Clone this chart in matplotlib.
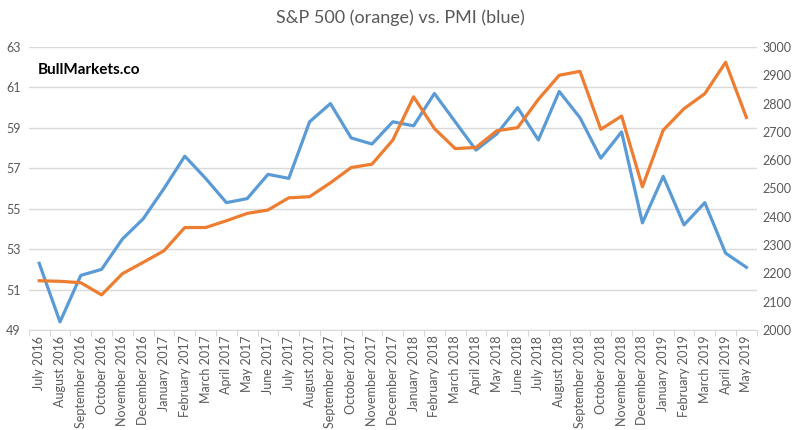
import matplotlib
matplotlib.use("Agg")
import matplotlib.pyplot as plt

months = ["July 2016", "August 2016", "September 2016", "October 2016", "November 2016",
          "December 2016", "January 2017", "February 2017", "March 2017", "April 2017",
          "May 2017", "June 2017", "July 2017", "August 2017", "September 2017",
          "October 2017", "November 2017", "December 2017", "January 2018", "February 2018",
          "March 2018", "April 2018", "May 2018", "June 2018", "July 2018", "August 2018",
          "September 2018", "October 2018", "November 2018", "December 2018",
          "January 2019", "February 2019", "March 2019", "April 2019", "May 2019"]

pmi = [52.3, 49.4, 51.7, 52.0, 53.5, 54.5, 56.0, 57.6, 56.5, 55.3, 55.5, 56.7, 56.5,
       59.3, 60.2, 58.5, 58.2, 59.3, 59.1, 60.7, 59.3, 57.9, 58.7, 60.0, 58.4, 60.8,
       59.5, 57.5, 58.8, 54.3, 56.6, 54.2, 55.3, 52.8, 52.1]

spx = [2174, 2172, 2167, 2124, 2199, 2239, 2280, 2362, 2362, 2386, 2412, 2424, 2467,
       2471, 2520, 2574, 2586, 2671, 2824, 2712, 2641, 2645, 2704, 2715, 2815, 2900,
       2914, 2709, 2756, 2506, 2706, 2782, 2835, 2946, 2751]

left_ticks = [49, 51, 53, 55, 57, 59, 61, 63]
right_ticks = list(range(2000, 3001, 100))

plt.rcParams['font.family'] = ['Lato', 'DejaVu Sans']

fig = plt.figure(figsize=(8, 4.3), dpi=100)
ax = fig.add_axes([0.036, 0.2326, 0.91, 0.6581])
ax2 = ax.twinx()

x = list(range(len(months)))
ax.plot(x, pmi, color="#5B9BD5", lw=2.3, solid_joinstyle="round", zorder=3)
ax2.plot(x, spx, color="#ED7D31", lw=2.3, solid_joinstyle="round", zorder=3)

ax.set_xlim(-0.5, len(months) - 0.5)
ax.set_ylim(49, 63)
ax2.set_ylim(2000, 3000)
ax.set_yticks(left_ticks)
ax2.set_yticks(right_ticks)

ax.set_xticks(x)
ax.set_xticklabels(months, rotation=90, fontsize=9, color="#595959")
ax.set_xticks([i - 0.5 for i in range(len(months) + 1)], minor=True)
ax.tick_params(axis='x', which='major', length=0, pad=4)
ax.tick_params(axis='x', which='minor', length=4, color="#d9d9d9", width=0.8)

ax.tick_params(axis='y', length=0, labelsize=9, labelcolor="#595959", pad=6)
ax2.tick_params(axis='y', length=0, labelsize=9, labelcolor="#595959", pad=4)

ax.grid(axis='y', color="#d9d9d9", lw=1.0)
ax.set_axisbelow(True)
for a in (ax, ax2):
    for s in ("top", "left", "right"):
        a.spines[s].set_visible(False)
    a.spines["bottom"].set_color("#d9d9d9")
ax2.spines["bottom"].set_visible(False)

fig.text(0.5, 0.958, "S&P 500 (orange) vs. PMI (blue)", ha="center", va="center",
         fontsize=13, color="#595959")
fig.text(0.047, 0.838, "BullMarkets.co", ha="left", va="center", fontsize=11,
         fontweight="bold", color="black")

fig.savefig("out.png", dpi=100)
